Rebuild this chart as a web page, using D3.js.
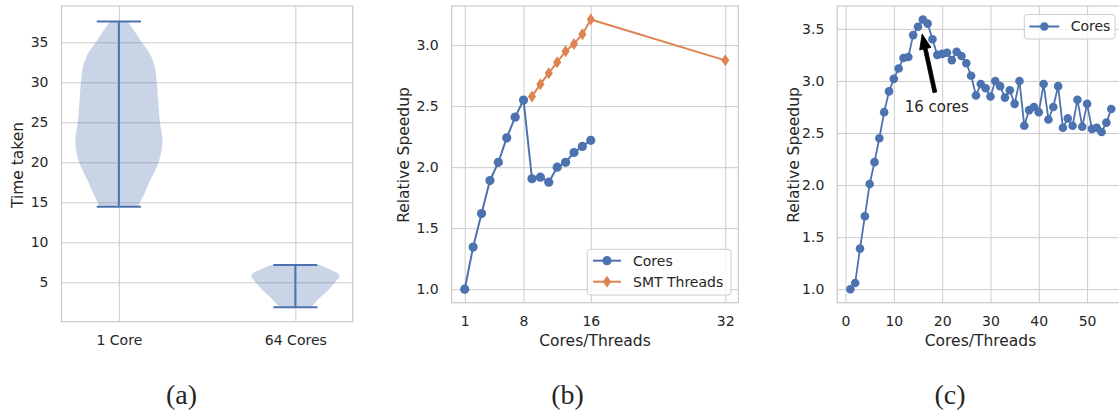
<!DOCTYPE html>
<html>
<head>
<meta charset="utf-8">
<script src="https://cdn.jsdelivr.net/npm/d3@7"></script>
<style>
  body { margin: 0; background: #fff; }
  svg { display: block; }
  text { font-family: "DejaVu Sans", sans-serif; fill: #262626; }
</style>
</head>
<body>
<svg id="fig" width="1119" height="414"></svg>
<script>
// ---------- (a) run time distributions ----------
const violinCats = ["1 Core", "64 Cores"];
const violinMin = [14.45, 1.87];
const violinMax = [37.6, 7.16];
// outline of each violin: time level and relative density width
const oneCoreLevels  = [14.45, 15.0, 16.1, 17.5, 20.0, 22.5, 25.0, 27.8, 30.0, 32.0, 33.6, 35.0, 36.1, 37.6];
const oneCoreDensity = [0.44, 0.48, 0.58, 0.69, 0.90, 0.99, 0.93, 0.89, 0.86, 0.81, 0.70, 0.52, 0.39, 0.20];
const manyCoreLevels  = [1.87, 2.16, 2.58, 3.2, 4.04, 5.0, 5.71, 6.04, 6.54, 7.16];
const manyCoreDensity = [0.33, 0.40, 0.47, 0.58, 0.75, 0.90, 1.0, 0.98, 0.81, 0.55];
const timeTicks = [5, 10, 15, 20, 25, 30, 35];

// ---------- (b) cores vs SMT threads ----------
const coresB = [1, 2, 3, 4, 5, 6, 7, 8, 9, 10, 11, 12, 13, 14, 15, 16];
const speedupCoresB = [1.0, 1.345, 1.62, 1.89, 2.04, 2.24, 2.41, 2.55, 1.905, 1.918, 1.877, 2.0, 2.04, 2.12, 2.17, 2.22];
const threadsB = [9, 10, 11, 12, 13, 14, 15, 16, 32];
const speedupThreadsB = [2.58, 2.68, 2.77, 2.86, 2.95, 3.01, 3.09, 3.21, 2.875];
const ticksXB = [1, 8, 16, 32];
const ticksYB = [1.0, 1.5, 2.0, 2.5, 3.0];

// ---------- (c) scaling up to 55 cores ----------
const coresC = d3.range(1, 56);
const speedupC = [
  1.0, 1.06, 1.39, 1.70, 2.01, 2.22, 2.45, 2.70, 2.90, 3.02,
  3.12, 3.22, 3.23, 3.44, 3.52, 3.59, 3.55, 3.40, 3.25, 3.26,
  3.27, 3.20, 3.28, 3.24, 3.17, 3.05, 2.86, 2.97, 2.93, 2.85,
  3.00, 2.95, 2.84, 2.91, 2.78, 3.00, 2.57, 2.72, 2.75, 2.70,
  2.97, 2.63, 2.75, 2.95, 2.55, 2.64, 2.57, 2.82, 2.56, 2.78,
  2.54, 2.55, 2.51, 2.60, 2.73
];
const ticksXC = [0, 10, 20, 30, 40, 50];
const ticksYC = [1.0, 1.5, 2.0, 2.5, 3.0, 3.5];
const annotationC = { label: "16 cores", tipX: 15.85, tipY: 3.45, tailX: 18.5, tailY: 2.89, textX: 18.9, textY: 2.70 };

const subCaptions = ["(a)", "(b)", "(c)"];

// ---------- styling ----------
const BLUE = "#4C72B0", ORANGE = "#DD8452", GRID = "#cccccc";
const TICK_FS = 14, LABEL_FS = 15.5, LEGEND_FS = 14;
const DIAMOND = "M0,-6L4.1,0L0,6L-4.1,0Z";

const svg = d3.select("#fig");

function frame(g, x0, x1, y0, y1) {
  g.append("rect").attr("x", x0).attr("y", y0).attr("width", x1 - x0).attr("height", y1 - y0)
    .attr("fill", "none").attr("stroke", GRID).attr("stroke-width", 1.25);
}

function axes(g, x, y, xTicks, yTicks, xFmt, yFmt) {
  const [xl, xr] = x.range();
  const [yb, yt] = y.range();
  const ya = g.append("g").attr("transform", `translate(${xl},0)`)
    .call(d3.axisLeft(y).tickValues(yTicks).tickSize(-(xr - xl)).tickPadding(13).tickFormat(yFmt));
  const xa = g.append("g").attr("transform", `translate(0,${yb})`)
    .call(d3.axisBottom(x).tickValues(xTicks).tickSize(-(yb - yt)).tickPadding(13.5).tickFormat(xFmt));
  [ya, xa].forEach(a => {
    a.select(".domain").remove();
    a.selectAll(".tick line").attr("stroke", GRID).attr("stroke-width", 1);
    a.selectAll(".tick text").attr("font-size", TICK_FS).attr("font-family", "DejaVu Sans").attr("fill", "#262626");
  });
}

function yLabel(g, text, cx, cy) {
  g.append("text").attr("transform", `translate(${cx},${cy}) rotate(-90)`)
    .attr("text-anchor", "middle").attr("dy", "0.35em").attr("font-size", LABEL_FS).text(text);
}
function xLabel(g, text, cx, baseline) {
  g.append("text").attr("x", cx).attr("y", baseline)
    .attr("text-anchor", "middle").attr("font-size", LABEL_FS).text(text);
}

function circleMarks(g, xs, ys, x, y, color, r) {
  g.selectAll(null).data(xs).enter().append("circle")
    .attr("cx", d => x(d)).attr("cy", (d, i) => y(ys[i])).attr("r", r).attr("fill", color);
}
function diamondMarks(g, xs, ys, x, y, color) {
  g.selectAll(null).data(xs).enter().append("path")
    .attr("d", DIAMOND).attr("transform", (d, i) => `translate(${x(d)},${y(ys[i])})`).attr("fill", color);
}
function seriesLine(g, xs, ys, x, y, color, w) {
  const line = d3.line().x(d => x(d[0])).y(d => y(d[1]));
  g.append("path").datum(xs.map((d, i) => [d, ys[i]])).attr("d", line)
    .attr("fill", "none").attr("stroke", color).attr("stroke-width", w).attr("stroke-linejoin", "round");
}

// ================= panel (a) =================
{
  const g = svg.append("g");
  const x = d3.scaleLinear().domain([0.675, 2.325]).range([61.5, 352.7]);
  const y = d3.scaleLinear().domain([0.075, 39.54]).range([321.7, 6]);
  axes(g, x, y, [1, 2], timeTicks, (d) => violinCats[d - 1], d3.format("d"));
  frame(g, 61.5, 352.7, 6, 321.7);

  const halfW = 0.25;
  const profiles = [
    oneCoreLevels.map((v, i) => [v, oneCoreDensity[i]]),
    manyCoreLevels.map((v, i) => [v, manyCoreDensity[i]])
  ];
  profiles.forEach((prof, k) => {
    const pos = k + 1;
    const area = d3.area()
      .y(d => y(d[0]))
      .x0(d => x(pos - halfW * d[1]))
      .x1(d => x(pos + halfW * d[1]))
      .curve(d3.curveCatmullRom.alpha(0.5));
    g.append("path").datum(prof).attr("d", area).attr("fill", BLUE).attr("fill-opacity", 0.3);
    // whisker bar and caps
    const cap = halfW / 2;
    g.append("line").attr("x1", x(pos)).attr("x2", x(pos)).attr("y1", y(violinMin[k])).attr("y2", y(violinMax[k]))
      .attr("stroke", BLUE).attr("stroke-width", 2);
    [violinMin[k], violinMax[k]].forEach(v => {
      g.append("line").attr("x1", x(pos - cap)).attr("x2", x(pos + cap)).attr("y1", y(v)).attr("y2", y(v))
        .attr("stroke", BLUE).attr("stroke-width", 2);
    });
  });
  yLabel(g, "Time taken", 18, 165);
}

// ================= panel (b) =================
{
  const g = svg.append("g");
  const x = d3.scaleLinear().domain([-0.55, 33.55]).range([451.7, 738.3]);
  const y = d3.scaleLinear().domain([0.8895, 3.3205]).range([302.7, 6]);
  axes(g, x, y, ticksXB, ticksYB, d3.format("d"), d3.format(".1f"));
  frame(g, 451.7, 738.3, 6, 302.7);

  seriesLine(g, coresB, speedupCoresB, x, y, BLUE, 2);
  circleMarks(g, coresB, speedupCoresB, x, y, BLUE, 4.6);
  seriesLine(g, threadsB, speedupThreadsB, x, y, ORANGE, 2);
  diamondMarks(g, threadsB, speedupThreadsB, x, y, ORANGE);

  // legend
  const lg = g.append("g");
  lg.append("rect").attr("x", 587.3).attr("y", 249.3).attr("width", 143.7).attr("height", 45.7).attr("rx", 3)
    .attr("fill", "#fff").attr("fill-opacity", 0.8).attr("stroke", GRID).attr("stroke-width", 1);
  const items = [["Cores", BLUE, "c"], ["SMT Threads", ORANGE, "d"]];
  items.forEach((it, i) => {
    const cy = 260.7 + i * 21;
    lg.append("line").attr("x1", 593).attr("x2", 621).attr("y1", cy).attr("y2", cy)
      .attr("stroke", it[1]).attr("stroke-width", 2);
    if (it[2] === "c") lg.append("circle").attr("cx", 607).attr("cy", cy).attr("r", 4.6).attr("fill", it[1]);
    else lg.append("path").attr("d", DIAMOND).attr("transform", `translate(607,${cy})`).attr("fill", it[1]);
    lg.append("text").attr("x", 633).attr("y", cy).attr("dy", "0.35em").attr("font-size", LEGEND_FS).text(it[0]);
  });

  yLabel(g, "Relative Speedup", 403.3, 155);
  xLabel(g, "Cores/Threads", 595, 346.3);
}

// ================= panel (c) =================
{
  const g = svg.append("g");
  const x = d3.scaleLinear().domain([-1.7, 57.7]).range([837.3, 1124.3]);
  const y = d3.scaleLinear().domain([0.8705, 3.7195]).range([302.7, 6]);
  axes(g, x, y, ticksXC, ticksYC, d3.format("d"), d3.format(".1f"));
  frame(g, 837.3, 1124.3, 6, 302.7);

  seriesLine(g, coresC, speedupC, x, y, BLUE, 1.8);
  circleMarks(g, coresC, speedupC, x, y, BLUE, 4.3);

  // legend
  const lg = g.append("g");
  lg.append("rect").attr("x", 1024.3).attr("y", 14.5).attr("width", 90.7).attr("height", 24.5).attr("rx", 3)
    .attr("fill", "#fff").attr("fill-opacity", 0.8).attr("stroke", GRID).attr("stroke-width", 1);
  lg.append("line").attr("x1", 1029.3).attr("x2", 1059.3).attr("y1", 26.5).attr("y2", 26.5)
    .attr("stroke", BLUE).attr("stroke-width", 2);
  lg.append("circle").attr("cx", 1044.3).attr("cy", 26.5).attr("r", 4.3).attr("fill", BLUE);
  lg.append("text").attr("x", 1070.7).attr("y", 26.5).attr("dy", "0.35em").attr("font-size", LEGEND_FS).text("Cores");

  // annotation arrow
  const a = annotationC;
  const tx = x(a.tailX), ty = y(a.tailY), hx = x(a.tipX), hy = y(a.tipY);
  const len = Math.hypot(hx - tx, hy - ty);
  const ux = (hx - tx) / len, uy = (hy - ty) / len;
  const nx = -uy, ny = ux;
  const sw = 1.9, hw = 5.8, hl = 15;
  const bx = hx - ux * hl, by = hy - uy * hl;
  const pts = [
    [tx + nx * sw, ty + ny * sw], [bx + nx * sw, by + ny * sw], [bx + nx * hw, by + ny * hw],
    [hx, hy],
    [bx - nx * hw, by - ny * hw], [bx - nx * sw, by - ny * sw], [tx - nx * sw, ty - ny * sw]
  ];
  g.append("path").attr("d", "M" + pts.map(p => p.join(",")).join("L") + "Z")
    .attr("fill", "#000").attr("stroke", "#000").attr("stroke-width", 0.8).attr("stroke-linejoin", "miter");
  g.append("text").attr("x", x(a.textX)).attr("y", y(a.textY)).attr("text-anchor", "middle")
    .attr("font-size", 15).text(a.label);

  yLabel(g, "Relative Speedup", 793.3, 155);
  xLabel(g, "Cores/Threads", 980.5, 346.3);
}

// ================= sub-captions =================
const capX = [181.5, 567.5, 950];
svg.selectAll(".subcap").data(subCaptions).enter().append("text")
  .attr("class", "subcap")
  .attr("x", (d, i) => capX[i]).attr("y", 404)
  .attr("text-anchor", "middle")
  .style("font-family", "'Liberation Serif', serif")
  .attr("font-size", 28).text(d => d);
</script>
</body>
</html>
